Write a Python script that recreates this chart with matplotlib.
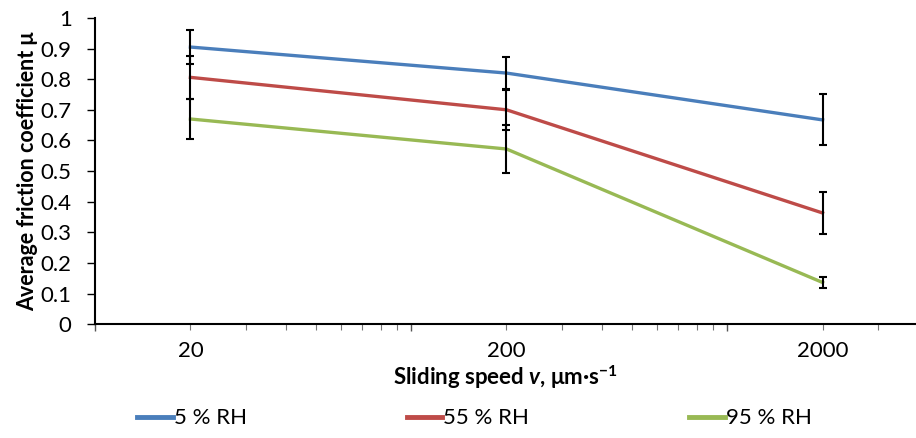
#
# friction coefficient vs sliding speed
#

import matplotlib
matplotlib.use('Agg')
import matplotlib.pyplot as plt
from matplotlib.ticker import LogLocator, NullFormatter, FuncFormatter, MultipleLocator

plt.rcParams['font.family'] = ['Lato', 'DejaVu Sans']
plt.rcParams['mathtext.fontset'] = 'custom'
plt.rcParams['mathtext.it'] = 'Lato:italic'
plt.rcParams['mathtext.bf'] = 'Lato:bold'
plt.rcParams['mathtext.bfit'] = 'Lato:bold:italic'

# data
speed = [20, 200, 2000]
labels = ['5 % RH', '55 % RH', '95 % RH']
mu_5 = [0.905, 0.82, 0.667]
mu_55 = [0.806, 0.70, 0.363]
mu_95 = [0.67, 0.572, 0.136]
err_5 = [0.055, 0.052, 0.083]
err_55 = [0.07, 0.065, 0.069]
err_95 = [0.065, 0.077, 0.019]
colors = ['#4A7EBB', '#BE4B48', '#98B954']

fig = plt.figure(figsize=(9.16, 4.38), dpi=100)
ax = fig.add_axes([0.104, 0.26, 0.896, 0.699])

series = [mu_5, mu_55, mu_95]
errors = [err_5, err_55, err_95]
for mu, err, col, lab in zip(series, errors, colors, labels):
    ax.plot(speed, mu, color=col, lw=2.4, label=lab, zorder=2)
    ax.errorbar(speed, mu, yerr=err, fmt='none', ecolor='black',
                elinewidth=1.5, capsize=3, capthick=1.5, zorder=3)

ax.set_xscale('log')
ax.set_xlim(10, 3950)
ax.set_ylim(0, 1)

#x ticks: decades unlabeled, only 20/200/2000 get text
ax.xaxis.set_major_locator(LogLocator(base=10))
ax.xaxis.set_major_formatter(NullFormatter())
ax.xaxis.set_minor_locator(LogLocator(base=10, subs=range(2, 10)))
ax.xaxis.set_minor_formatter(FuncFormatter(
    lambda v, p: str(int(round(v))) if int(round(v)) in speed else ''))
ax.tick_params(axis='x', which='major', length=5, width=1, color='#555555', pad=8, labelsize=16)
ax.tick_params(axis='x', which='minor', length=4, width=0.8, color='#777777', pad=8, labelsize=16)

ax.yaxis.set_major_locator(MultipleLocator(0.1))
ax.yaxis.set_major_formatter(FuncFormatter(lambda v, p: '%g' % round(v, 1)))
ax.tick_params(axis='y', length=6, width=1, labelsize=16, pad=11)

ax.spines['top'].set_visible(False)
ax.spines['right'].set_visible(False)
ax.spines['left'].set_linewidth(1.5)
ax.spines['bottom'].set_linewidth(1.5)

ax.set_ylabel('Average friction coefficient μ', fontsize=15.5,
              fontweight='bold', labelpad=2)
ax.set_xlabel(r'Sliding speed $\mathbfit{v}$, μm·s$^{\mathbf{-1}}$', fontsize=16,
              fontweight='bold', labelpad=2)

leg = fig.legend(loc='center', bbox_to_anchor=(0.518, 0.045), ncol=3, frameon=False,
                 fontsize=16, handlelength=1.6, handletextpad=0.05, columnspacing=7.2)
for h in leg.get_lines():
    h.set_linewidth(3.5)

fig.savefig('out.png', dpi=100)
